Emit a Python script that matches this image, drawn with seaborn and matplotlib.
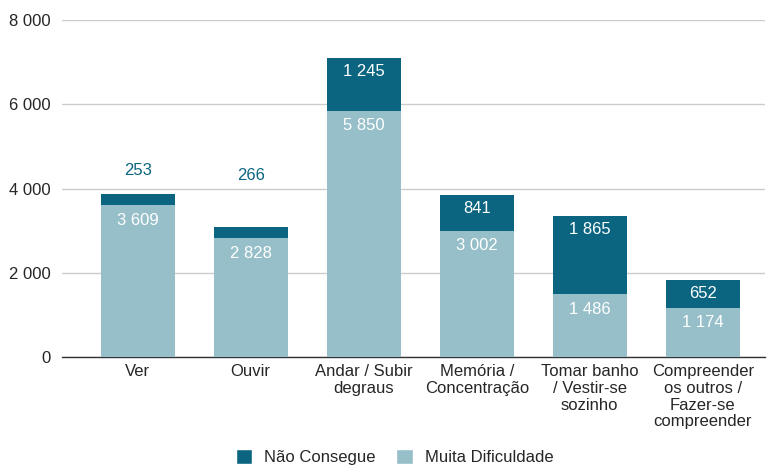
import matplotlib
matplotlib.use("Agg")
import matplotlib.pyplot as plt
import seaborn as sns
import pandas as pd
from matplotlib.patches import Patch

# -----------------------------
# Data
# -----------------------------
categories = [
    "Ver",
    "Ouvir",
    "Andar / Subir\ndegraus",
    "Memória /\nConcentração",
    "Tomar banho\n/ Vestir-se\nsozinho",
    "Compreender\nos outros /\nFazer-se\ncompreender",
]
muita_dificuldade = [3609, 2828, 5850, 3002, 1486, 1174]
nao_consegue = [253, 266, 1245, 841, 1865, 652]
series_names = ["Não Consegue", "Muita Dificuldade"]

dark = "#0b6580"
light = "#97bfc9"

df = pd.DataFrame({
    "cat": categories,
    "muita": muita_dificuldade,
    "nao": nao_consegue,
})
df["total"] = df["muita"] + df["nao"]


def fmt(v):
    return f"{v:,}".replace(",", " ")


sns.set_style("white")
plt.rcParams["font.family"] = ["Liberation Sans", "DejaVu Sans"]

fig = plt.figure(figsize=(7.69, 4.69), dpi=100)
ax = fig.add_axes([62 / 769, 1 - 357 / 469, 703 / 769, 337 / 469])

# -----------------------------
# Stacked bars
# -----------------------------
sns.barplot(data=df, x="cat", y="total", color=dark, saturation=1,
            width=0.655, linewidth=0, ax=ax, zorder=2)
sns.barplot(data=df, x="cat", y="muita", color=light, saturation=1,
            width=0.655, linewidth=0, ax=ax, zorder=3)

ax.set_xlim(-0.67, 5.55)
ax.set_ylim(0, 8000)
ax.set_yticks([0, 2000, 4000, 6000, 8000])
ax.set_yticklabels([fmt(v) for v in [0, 2000, 4000, 6000, 8000]], fontsize=12)
ax.yaxis.grid(True, color="#cccccc", linewidth=1)
ax.set_axisbelow(True)
ax.set_xlabel("")
ax.set_ylabel("")
ax.tick_params(axis="x", labelsize=12, length=0, pad=5)
ax.tick_params(axis="y", length=0, pad=8)
for lbl in ax.get_xticklabels():
    lbl.set_linespacing(1.15)
for s in ["top", "right", "left"]:
    ax.spines[s].set_visible(False)
ax.spines["bottom"].set_color("#333333")
ax.spines["bottom"].set_linewidth(1)

# -----------------------------
# Labels
# -----------------------------
above_offsets = {0: 17.5, 1: 37}
for i, row in df.iterrows():
    ax.annotate(fmt(row["muita"]), (i, row["muita"]), xytext=(0, -11),
                textcoords="offset points", ha="center", va="center",
                color="white", fontsize=12, zorder=5)
    if i in above_offsets:
        ax.annotate(fmt(row["nao"]), (i, row["total"]),
                    xytext=(0, above_offsets[i]), textcoords="offset points",
                    ha="center", va="center", color=dark, fontsize=12,
                    zorder=5)
    else:
        ax.annotate(fmt(row["nao"]), (i, row["total"]), xytext=(0, -9.5),
                    textcoords="offset points", ha="center", va="center",
                    color="white", fontsize=12, zorder=5)

# -----------------------------
# Legend
# -----------------------------
handles = [Patch(facecolor=dark), Patch(facecolor=light)]
fig.legend(handles, series_names, loc="center",
           bbox_to_anchor=(394.5 / 769, 1 - 457 / 469),
           ncol=2, frameon=False, fontsize=12, handlelength=1.0, handleheight=1.0,
           columnspacing=1.25, handletextpad=0.7)

fig.savefig("out.png", dpi=100)
